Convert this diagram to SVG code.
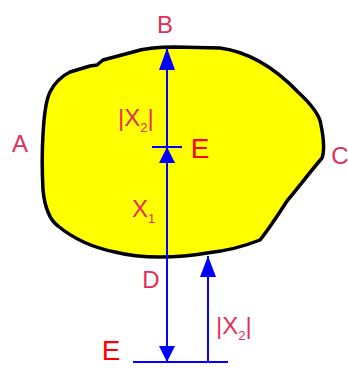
<svg xmlns="http://www.w3.org/2000/svg" width="348" height="368" viewBox="0 0 348 368">
<style>
.lbl{font-family:"Liberation Sans",Arial,sans-serif;font-size:24px;fill:#e0305a}
.e{font-family:"Liberation Sans",Arial,sans-serif;font-size:28px;fill:#ff0000}
.sub{font-size:13px}
.ln{stroke:#0000ff;stroke-width:2;fill:none}
.ah{fill:#0000ff}
</style>
<rect width="348" height="368" fill="#ffffff"/>
<g id="body">
<path d="M 133 52 C 145 48, 160 47, 175 47 L 220 48 C 250 52, 275 68, 298 92 C 312 105, 320 115, 321 125 C 324 140, 325 150, 322 158 C 310 172, 298 188, 287 201 C 278 215, 268 230, 260 240 C 240 248, 225 251, 207 253 C 190 256, 175 257, 160 257 C 145 257, 130 256, 115 252 C 95 248, 75 240, 58 226 C 50 220, 45 210, 43 190 C 42 170, 42 150, 43 135 C 44 115, 46 100, 50 92 C 55 82, 62 76, 70 72 L 90 66 L 97 65 L 103 60 Z" fill="#ffff00" stroke="#000000" stroke-width="3.5" stroke-linejoin="round"/>
</g>
<g id="connectors">
<line class="ln" x1="167" y1="48" x2="167" y2="362"/>
<polygon class="ah" points="167,48 159,70 175,70"/>
<line class="ln" x1="152" y1="147" x2="182" y2="147"/>
<polygon class="ah" points="167,147 159,163 175,163"/>
<polygon class="ah" points="167,362 159,346 175,346"/>
<line class="ln" x1="133" y1="362" x2="228" y2="362"/>
<line class="ln" x1="208" y1="256" x2="208" y2="362"/>
<polygon class="ah" points="208,256 200,277 216,277"/>
</g>
<g id="labels">
<text class="lbl" x="165" y="33" text-anchor="middle">B</text>
<text class="lbl" x="20" y="152" text-anchor="middle">A</text>
<text class="lbl" x="340" y="164" text-anchor="middle">C</text>
<text class="lbl" x="151" y="288" text-anchor="middle">D</text>
<text class="e" x="200" y="158" text-anchor="middle">E</text>
<text class="e" x="111" y="360" text-anchor="middle" font-size="26">E</text>
<text class="lbl" x="118" y="126">|X<tspan class="sub" dy="6">2</tspan><tspan dy="-6">|</tspan></text>
<text class="lbl" x="132" y="217">X<tspan class="sub" dy="6">1</tspan></text>
<text class="lbl" x="216" y="334">|X<tspan class="sub" dy="6">2</tspan><tspan dy="-6">|</tspan></text>
</g>
</svg>
